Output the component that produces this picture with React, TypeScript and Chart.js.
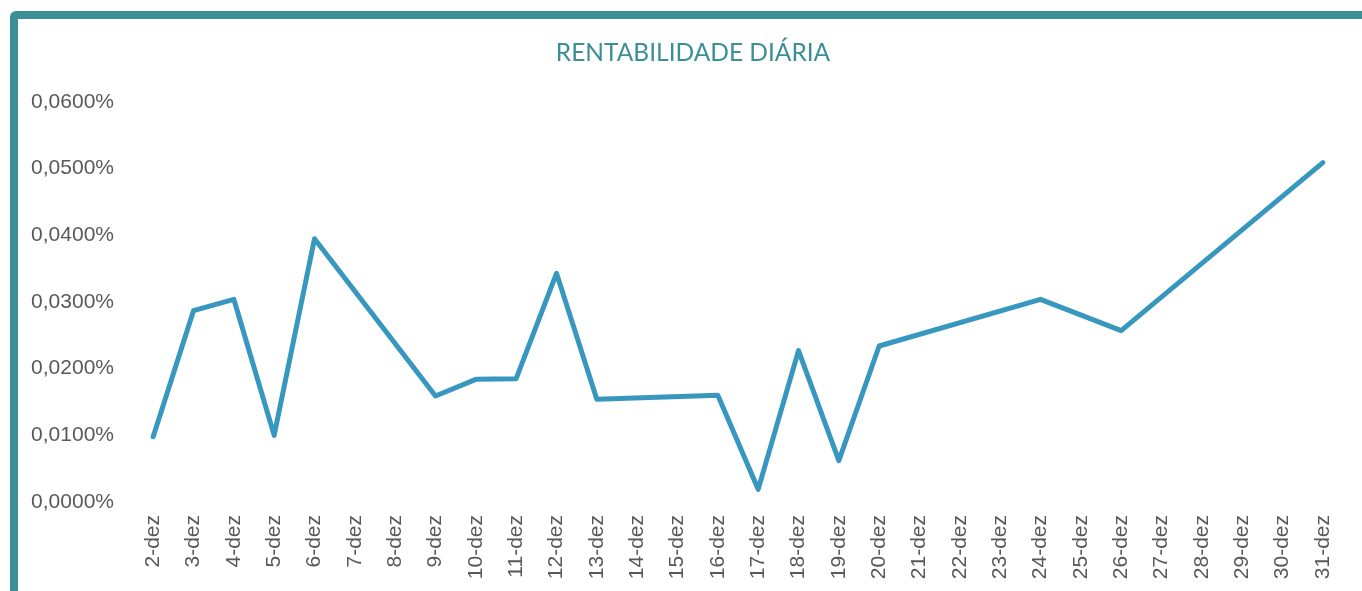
import React, { useEffect, useRef } from "react";
import { Chart, registerables } from "chart.js";

Chart.register(...registerables);

const categories: string[] = [
  "2-dez", "3-dez", "4-dez", "5-dez", "6-dez", "7-dez", "8-dez", "9-dez", "10-dez", "11-dez",
  "12-dez", "13-dez", "14-dez", "15-dez", "16-dez", "17-dez", "18-dez", "19-dez", "20-dez", "21-dez",
  "22-dez", "23-dez", "24-dez", "25-dez", "26-dez", "27-dez", "28-dez", "29-dez", "30-dez", "31-dez",
];

// daily return, in percent (null = no value that day)
const rentabilidade: (number | null)[] = [
  0.0098, 0.0287, 0.0304, 0.0100, 0.0395, null, null, 0.0159, 0.0184, 0.0185,
  0.0343, 0.0154, null, null, 0.0160, 0.0019, 0.0227, 0.0062, 0.0234, null,
  null, null, 0.0304, null, 0.0257, null, null, null, null, 0.0509,
];

const yTicks: number[] = [0, 0.01, 0.02, 0.03, 0.04, 0.05, 0.06];

const TITLE = "RENTABILIDADE DIÁRIA";
const TEAL = "#3b8f96";
const LINE = "#3797bf";
const GRAY = "#595959";

export default function App() {
  const canvasRef = useRef<HTMLCanvasElement | null>(null);

  useEffect(() => {
    if (!canvasRef.current) return;
    const chart = new Chart(canvasRef.current, {
      type: "line",
      data: {
        labels: categories,
        datasets: [
          {
            label: TITLE,
            data: rentabilidade,
            borderColor: LINE,
            backgroundColor: LINE,
            borderWidth: 5,
            borderCapStyle: "round",
            borderJoinStyle: "round",
            pointRadius: 0,
            pointHoverRadius: 0,
            spanGaps: true,
            tension: 0,
            xAxisID: "x",
            yAxisID: "y",
          },
        ],
      },
      options: {
        animation: false,
        responsive: false,
        maintainAspectRatio: false,
        layout: { padding: { left: 0, right: 0, top: 0, bottom: 0 } },
        plugins: {
          legend: { display: false },
          tooltip: { enabled: false },
          title: {
            display: true,
            text: TITLE,
            color: TEAL,
            font: { family: "Lato, 'Liberation Sans', Arial, sans-serif", size: 24.5, weight: "normal", lineHeight: 1.2 },
            padding: { top: 19, bottom: 34.6 },
          },
        },
        scales: {
          x: {
            type: "category",
            offset: true,
            grid: { display: false, drawTicks: false },
            border: { display: false },
            ticks: {
              autoSkip: false,
              minRotation: 90,
              maxRotation: 90,
              padding: 13,
              color: GRAY,
              font: { family: "'Liberation Sans', Arial, sans-serif", size: 21 },
            },
            afterFit: (scale: any) => {
              scale.height = 89;
            },
          },
          y: {
            min: 0,
            max: 0.06,
            grid: { display: false, drawTicks: false },
            border: { display: false },
            afterBuildTicks: (scale: any) => {
              scale.ticks = yTicks.map((v) => ({ value: v }));
            },
            ticks: {
              stepSize: 0.01,
              padding: 19,
              color: GRAY,
              font: { family: "'Liberation Sans', Arial, sans-serif", size: 21 },
              callback: (v: any) => Number(v).toFixed(4).replace(".", ",") + "%",
            },
            afterFit: (scale: any) => {
              scale.width = 115;
            },
          },
          yRight: {
            position: "right",
            display: true,
            min: 0,
            max: 0.06,
            grid: { display: false, drawTicks: false },
            border: { display: false },
            ticks: { display: false },
            afterFit: (scale: any) => {
              scale.width = 25;
            },
          },
        },
      },
    });
    return () => chart.destroy();
  }, []);

  return (
    <div style={{ position: "fixed", left: 0, top: 0, width: 1362, height: 591, overflow: "hidden", background: "#ffffff" }}>
      <div
        style={{
          position: "absolute",
          left: 10,
          top: 11,
          width: 1400,
          height: 700,
          border: `8px solid ${TEAL}`,
          borderRadius: 6,
          boxSizing: "border-box",
        }}
      />
      <canvas
        ref={canvasRef}
        width={1350}
        height={572}
        style={{ position: "absolute", left: 18, top: 19, width: 1350, height: 572 }}
      />
    </div>
  );
}
